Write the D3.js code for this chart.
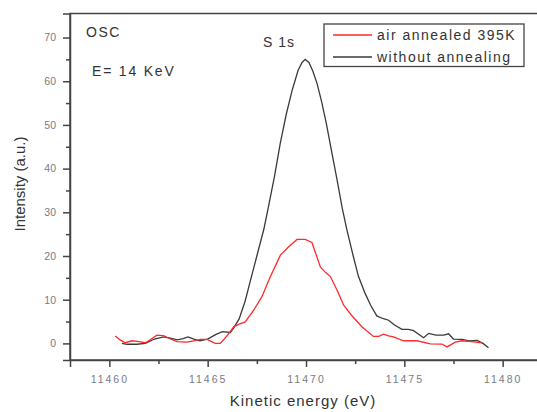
<!DOCTYPE html>
<html>
<head>
<meta charset="utf-8">
<script src="https://cdn.jsdelivr.net/npm/d3@7"></script>
<style>
  html, body { margin: 0; padding: 0; background: #fff; }
  svg { display: block; font-family: Arial, "Liberation Sans", sans-serif; }
</style>
</head>
<body>
<svg id="chart" width="537" height="412"></svg>
<script>
// S 1s spectra, kinetic energy (eV) vs intensity (a.u.)
const annealedEnergy = [11460.3, 11460.55, 11460.81, 11461.15, 11461.5, 11461.83, 11462.1, 11462.42, 11462.76, 11463.1,
  11463.44, 11463.95, 11464.3, 11464.63, 11464.97, 11465.2, 11465.39, 11465.64, 11465.9, 11466.15,
  11466.32, 11466.6, 11466.91, 11467.34, 11467.76, 11468.19, 11468.45, 11468.7, 11469.12, 11469.54,
  11469.96, 11470.3, 11470.5, 11470.73, 11471.0, 11471.24, 11471.6, 11471.91, 11472.3, 11472.84,
  11473.43, 11473.7, 11473.94, 11474.2, 11474.45, 11474.96, 11475.64, 11476.32, 11476.91, 11477.17,
  11477.59, 11477.93, 11478.4, 11478.95];
const annealedIntensity = [1.7, 0.8, 0.15, 0.6, 0.4, 0.15, 0.9, 1.9, 1.8, 1.0,
  0.4, 0.3, 0.6, 0.9, 0.9, 0.4, 0.0, 0.0, 1.3, 2.7,
  3.8, 4.4, 4.9, 7.6, 10.7, 15.3, 17.8, 20.2, 22.1, 23.8,
  23.8, 23.1, 20.5, 17.5, 16.2, 15.3, 12.0, 8.8, 6.5, 3.8,
  1.6, 1.6, 2.1, 1.7, 1.5, 0.6, 0.6, -0.1, -0.15, -0.8,
  0.3, 0.6, 0.4, 0.1];

const rawEnergy = [11460.64, 11460.9, 11461.4, 11461.83, 11462.3, 11462.75, 11463.1, 11463.45, 11463.75, 11464.0,
  11464.3, 11464.6, 11465.0, 11465.4, 11465.75, 11466.15, 11466.3, 11466.6, 11466.9, 11467.17, 11467.5,
  11467.85, 11468.1, 11468.4, 11468.7, 11469.0, 11469.3, 11469.6, 11469.8, 11469.96, 11470.15,
  11470.35, 11470.56, 11470.8, 11471.03, 11471.3, 11471.58, 11471.85, 11472.08, 11472.4, 11472.67,
  11473.0, 11473.3, 11473.6, 11473.9, 11474.2, 11474.5, 11474.88, 11475.2, 11475.47, 11475.98,
  11476.24, 11476.6, 11477.0, 11477.25, 11477.5, 11477.93, 11478.3, 11478.7, 11479.0, 11479.28];
const rawIntensity = [0.0, -0.2, -0.2, 0.0, 1.0, 1.5, 1.2, 0.8, 1.1, 1.5,
  1.0, 0.6, 1.0, 2.0, 2.7, 2.5, 3.4, 5.6, 9.6, 14.3, 20.0,
  26.0, 31.5, 38.3, 46.0, 52.5, 58.0, 62.5, 64.3, 65.0, 64.3,
  62.3, 59.5, 55.2, 50.4, 44.0, 37.4, 30.8, 26.0, 20.0, 15.3,
  11.5, 8.6, 6.3, 5.7, 5.3, 4.2, 3.2, 3.2, 2.9, 1.3,
  2.3, 1.9, 1.9, 2.2, 1.0, 0.9, 0.6, 0.7, 0.0, -1.0];

const seriesNames = ["air annealed 395K", "without annealing"];
const seriesColors = ["#ff2a2a", "#3a3a3a"];

const xTicks = [11460, 11465, 11470, 11475, 11480];
const xMinorTicks = [11462.5, 11467.5, 11472.5, 11477.5];
const yTicks = [0, 10, 20, 30, 40, 50, 60, 70];
const yMinorTicks = [5, 15, 25, 35, 45, 55, 65];

const svg = d3.select("#chart");
const plot = { left: 70, top: 13.5, right: 542, bottom: 360 };

const x = d3.scaleLinear().domain([11458, 11482]).range([plot.left, plot.right]);
const y = d3.scaleLinear().domain([-3.8, 75.5]).range([plot.bottom, plot.top]);

const labelColor = "#7a7a84";
const axisColor = "#444";

// frame
svg.append("rect")
  .attr("x", plot.left).attr("y", plot.top)
  .attr("width", plot.right - plot.left).attr("height", plot.bottom - plot.top)
  .attr("fill", "none").attr("stroke", axisColor).attr("stroke-width", 1.5);

// x axis
const xAxis = svg.append("g").attr("transform", `translate(0,${plot.bottom})`)
  .call(d3.axisBottom(x).tickValues(xTicks).tickFormat(d3.format("d")).tickSize(7).tickPadding(9));
svg.append("g").attr("transform", `translate(0,${plot.bottom})`)
  .call(d3.axisBottom(x).tickValues(xMinorTicks).tickFormat("").tickSize(4))
  .call(g => g.select(".domain").remove());

// y axis
const yAxis = svg.append("g").attr("transform", `translate(${plot.left},0)`)
  .call(d3.axisLeft(y).tickValues(yTicks).tickFormat(d3.format("d")).tickSize(7).tickPadding(7));
svg.append("g").attr("transform", `translate(${plot.left},0)`)
  .call(d3.axisLeft(y).tickValues(yMinorTicks).tickFormat("").tickSize(4))
  .call(g => g.select(".domain").remove());

svg.selectAll(".domain").attr("stroke", axisColor).attr("stroke-width", 1.5);
svg.selectAll(".tick line").attr("stroke", axisColor).attr("stroke-width", 1.5);
svg.selectAll(".tick text")
  .attr("fill", labelColor)
  .style("font-size", "10.5px")
  .style("font-family", "Arial, 'Liberation Sans', sans-serif");
xAxis.selectAll(".tick text").style("letter-spacing", "2px");

// curves
const line = d3.line().x(d => x(d[0])).y(d => y(d[1]));
const annealed = annealedEnergy.map((e, i) => [e, annealedIntensity[i]]);
const raw = rawEnergy.map((e, i) => [e, rawIntensity[i]]);

svg.append("path").datum(raw)
  .attr("d", line).attr("fill", "none")
  .attr("stroke", seriesColors[1]).attr("stroke-width", 1.3);
svg.append("path").datum(annealed)
  .attr("d", line).attr("fill", "none")
  .attr("stroke", seriesColors[0]).attr("stroke-width", 1.3);

// legend
const legend = svg.append("g");
legend.append("rect")
  .attr("x", 324).attr("y", 24).attr("width", 200).attr("height", 42.5)
  .attr("fill", "#fff").attr("stroke", axisColor).attr("stroke-width", 1.3);
seriesNames.forEach((name, i) => {
  const ly = 35 + i * 22;
  legend.append("line")
    .attr("x1", 333).attr("x2", 372).attr("y1", ly).attr("y2", ly)
    .attr("stroke", seriesColors[i]).attr("stroke-width", 1.3);
  legend.append("text")
    .attr("x", 377).attr("y", ly + 5)
    .attr("fill", "#333").style("font-size", "14px").style("letter-spacing", "1.5px")
    .text(name);
});

// annotations
const note = (tx, ty, txt, size, spacing) => svg.append("text")
  .attr("x", tx).attr("y", ty).attr("fill", "#333")
  .style("font-size", size + "px").style("letter-spacing", spacing + "px").text(txt);
note(86, 36.5, "OSC", 14, 1.5);
note(92, 76, "E= 14 KeV", 14, 1.8);
note(263, 47, "S 1s", 14, 1);

// axis titles
svg.append("text")
  .attr("x", 303).attr("y", 406).attr("text-anchor", "middle")
  .attr("fill", "#333").style("font-size", "15px").style("letter-spacing", "1px")
  .text("Kinetic energy (eV)");
svg.append("text")
  .attr("transform", "translate(25,184) rotate(-90)").attr("text-anchor", "middle")
  .attr("fill", "#333").style("font-size", "15px")
  .text("Intensity (a.u.)");
</script>
</body>
</html>
